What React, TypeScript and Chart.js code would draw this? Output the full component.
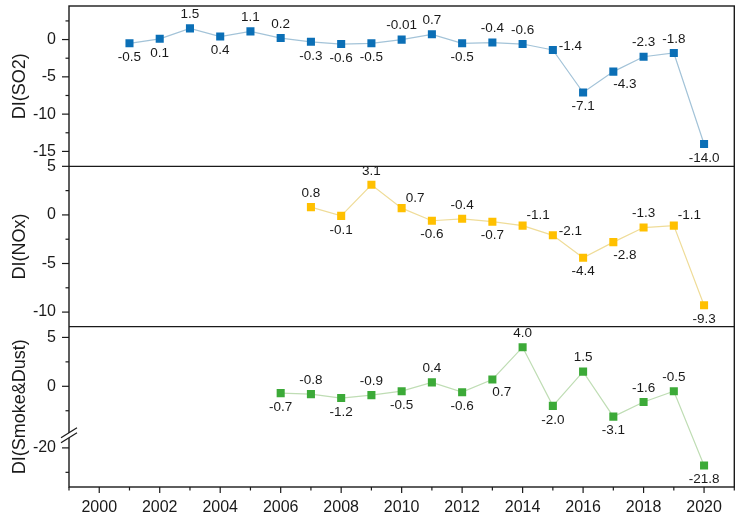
import React, { useEffect, useRef } from "react";
import { Chart, registerables, LinearScale } from "chart.js";

// broken y axis for the smoke & dust panel: values below the gap are shifted up
const smokeGapLow = -18.7;
const smokeGapHigh = -5;
const smokeGap = smokeGapHigh - smokeGapLow;
const foldSmoke = (v: any) => (v != null && v <= smokeGapLow ? v + smokeGap : v);
const unfoldSmoke = (v: number) => (v < smokeGapHigh ? v - smokeGap : v);

class BrokenScale extends LinearScale {
  static id = "brokenLinear";
  static defaults = {};
  getPixelForValue(value: number) {
    return super.getPixelForValue(foldSmoke(value));
  }
  getValueForPixel(pixel: number) {
    return unfoldSmoke(super.getValueForPixel(pixel) as number);
  }
}

Chart.register(...registerables, BrokenScale);

const so2Years = [2001, 2002, 2003, 2004, 2005, 2006, 2007, 2008, 2009, 2010, 2011, 2012, 2013, 2014, 2015, 2016, 2017, 2018, 2019, 2020];
const so2Values = [-0.5, 0.1, 1.5, 0.4, 1.1, 0.2, -0.3, -0.6, -0.5, -0.01, 0.7, -0.5, -0.4, -0.6, -1.4, -7.1, -4.3, -2.3, -1.8, -14.0];
const so2LabelPos = ["b", "b", "t", "b", "t", "t", "b", "b", "b", "t", "t", "b", "t", "t", "r", "b", "br", "t", "t", "b"];

const noxYears = [2007, 2008, 2009, 2010, 2011, 2012, 2013, 2014, 2015, 2016, 2017, 2018, 2019, 2020];
const noxValues = [0.8, -0.1, 3.1, 0.7, -0.6, -0.4, -0.7, -1.1, -2.1, -4.4, -2.8, -1.3, -1.1, -9.3];
const noxLabelPos = ["t", "b", "t", "tr", "b", "t", "b", "tr", "r", "b", "br", "t", "tr", "b"];

const smokeYears = [2006, 2007, 2008, 2009, 2010, 2011, 2012, 2013, 2014, 2015, 2016, 2017, 2018, 2019, 2020];
const smokeValues = [-0.7, -0.8, -1.2, -0.9, -0.5, 0.4, -0.6, 0.7, 4.0, -2.0, 1.5, -3.1, -1.6, -0.5, -21.8];
const smokeLabelPos = ["b", "t", "b", "t", "b", "t", "b", "br", "t", "b", "t", "b", "t", "t", "b"];

const yearTicks = [1999, 2000, 2001, 2002, 2003, 2004, 2005, 2006, 2007, 2008, 2009, 2010, 2011, 2012, 2013, 2014, 2015, 2016, 2017, 2018, 2019, 2020, 2021];
const so2Ticks = [-15, -12.5, -10, -7.5, -5, -2.5, 0, 2.5];
const noxTicks = [-10, -7.5, -5, -2.5, 0, 2.5, 5];
const smokeTicks = [-22.5, -20, -2.5, 0, 2.5, 5];

const FONT = "'Liberation Sans', Arial, sans-serif";
const INK = "#1a1a1a";

const placeOffsets: Record<string, [number, number, CanvasTextAlign]> = {
  t: [0, -14, "center"],
  b: [0, 14, "center"],
  tr: [4, -10, "left"],
  r: [6, -4, "left"],
  br: [0, 13, "left"],
};

const fmt = (v: number) =>
  Math.abs(v * 10 - Math.round(v * 10)) < 1e-9 ? v.toFixed(1) : String(v);

const pointLabels = {
  id: "pointLabels",
  afterDatasetsDraw(chart: any) {
    const ctx = chart.ctx;
    ctx.save();
    ctx.font = `13.5px ${FONT}`;
    ctx.fillStyle = INK;
    ctx.textBaseline = "middle";
    chart.data.datasets.forEach((ds: any, i: number) => {
      const meta = chart.getDatasetMeta(i);
      meta.data.forEach((pt: any, j: number) => {
        const [dx, dy, align] = placeOffsets[ds.labelPos[j]];
        ctx.textAlign = align;
        ctx.fillText(fmt(ds.data[j].y), pt.x + dx, pt.y + dy);
      });
    });
    ctx.restore();
  },
};

const frame = {
  id: "frame",
  afterDraw(chart: any) {
    const { ctx, chartArea: a } = chart;
    ctx.save();
    ctx.strokeStyle = INK;
    ctx.lineWidth = 1.4;
    ctx.strokeRect(a.left, a.top, a.right - a.left, a.bottom - a.top);
    ["ySO2", "yNOx"].forEach((id) => {
      const y = chart.scales[id].bottom;
      ctx.beginPath();
      ctx.moveTo(a.left, y);
      ctx.lineTo(a.right, y);
      ctx.stroke();
    });
    ctx.lineWidth = 1.2;
    ["ySO2", "yNOx", "ySmoke"].forEach((id) => {
      const s = chart.scales[id];
      s.ticks.forEach((t: any, i: number) => {
        const y = s.getPixelForTick(i);
        const len = t.label ? 7 : 3.5;
        ctx.beginPath();
        ctx.moveTo(a.left - len, y);
        ctx.lineTo(a.left, y);
        ctx.stroke();
      });
    });
    const xs = chart.scales.x;
    xs.ticks.forEach((t: any, i: number) => {
      const x = xs.getPixelForTick(i);
      const len = t.label ? 6 : 3.5;
      ctx.beginPath();
      ctx.moveTo(x, a.bottom);
      ctx.lineTo(x, a.bottom + len);
      ctx.stroke();
    });
    // axis break marks
    const by = chart.scales.ySmoke.getPixelForValue(smokeGapHigh);
    const bx = a.left;
    ctx.fillStyle = "#fff";
    ctx.beginPath();
    ctx.moveTo(bx - 8, by + 2.5);
    ctx.lineTo(bx + 8, by - 7.5);
    ctx.lineTo(bx + 8, by - 2.5);
    ctx.lineTo(bx - 8, by + 7.5);
    ctx.closePath();
    ctx.fill();
    ctx.lineWidth = 1.2;
    [-2.5, 2.5].forEach((o) => {
      ctx.beginPath();
      ctx.moveTo(bx - 8, by + 5 + o);
      ctx.lineTo(bx + 8, by - 5 + o);
      ctx.stroke();
    });
    ctx.restore();
  },
};

const noPad = (s: any) => {
  s.paddingTop = 0;
  s.paddingBottom = 0;
  s.paddingLeft = 0;
  s.paddingRight = 0;
};

const yAxis = (title: string, min: number, max: number, tickVals: number[], weight: number, type = "linear") => ({
  type,
  position: "left",
  stack: "panels",
  weight,
  min,
  max,
  bounds: "data",
  grid: { display: false, drawTicks: true, tickLength: 7 },
  border: { display: false },
  ticks: {
    padding: 6,
    autoSkip: false,
    color: INK,
    font: { family: FONT, size: 16 },
    callback: (v: number) => (v % 5 === 0 ? String(v) : ""),
  },
  title: {
    display: true,
    text: title,
    color: INK,
    font: { family: FONT, size: 18 },
    padding: { top: 9, bottom: 0 },
  },
  afterBuildTicks: (s: any) => {
    s.ticks = tickVals.map((value) => ({ value }));
  },
  afterFit: (s: any) => {
    s.width = 69;
    noPad(s);
  },
});

const series = (
  label: string,
  years: number[],
  values: number[],
  labelPos: string[],
  yAxisID: string,
  line: string,
  marker: string
) => ({
  label,
  data: years.map((x, i) => ({ x, y: values[i] })),
  labelPos,
  yAxisID,
  borderColor: line,
  borderWidth: 1.2,
  pointStyle: "rect",
  pointRadius: 5.7,
  pointBorderWidth: 0,
  pointBackgroundColor: marker,
  tension: 0,
});

export default function App() {
  const canvas = useRef<HTMLCanvasElement>(null);

  useEffect(() => {
    const chart = new Chart(canvas.current!, {
      type: "line",
      data: {
        datasets: [
          series("SO2", so2Years, so2Values, so2LabelPos, "ySO2", "#a3c3d8", "#0b6fb6"),
          series("NOx", noxYears, noxValues, noxLabelPos, "yNOx", "#efdc98", "#ffc000"),
          series("Smoke&Dust", smokeYears, smokeValues, smokeLabelPos, "ySmoke", "#bfddb4", "#3caa38"),
        ] as any,
      },
      options: {
        animation: false,
        responsive: true,
        maintainAspectRatio: false,
        events: [],
        layout: { padding: { top: 6, right: 2, left: 0, bottom: 0 } },
        plugins: { legend: { display: false }, tooltip: { enabled: false } },
        scales: {
          ySO2: yAxis("DI(SO2)", -17, 4.5, so2Ticks, 3),
          yNOx: yAxis("DI(NOx)", -11.5, 5, noxTicks, 2),
          ySmoke: yAxis("DI(Smoke&Dust)", foldSmoke(-24), 6.1, smokeTicks, 1, "brokenLinear"),
          x: {
            type: "linear",
            position: "bottom",
            min: 1999,
            max: 2021,
            bounds: "data",
            grid: { display: false, drawTicks: true, tickLength: 6 },
            border: { display: false },
            ticks: {
              padding: 5,
              autoSkip: false,
              maxRotation: 0,
              color: INK,
              font: { family: FONT, size: 16 },
              callback: (v: number) => (v % 2 === 0 ? String(v) : ""),
            },
            afterBuildTicks: (s: any) => {
              s.ticks = yearTicks.map((value) => ({ value }));
            },
            afterFit: (s: any) => {
              s.height = 31;
              noPad(s);
            },
          },
        } as any,
      },
      plugins: [pointLabels, frame],
    });
    return () => chart.destroy();
  }, []);

  return (
    <div style={{ position: "absolute", left: 0, top: 0, width: 740, height: 518, background: "#fff" }}>
      <canvas ref={canvas} />
    </div>
  );
}
